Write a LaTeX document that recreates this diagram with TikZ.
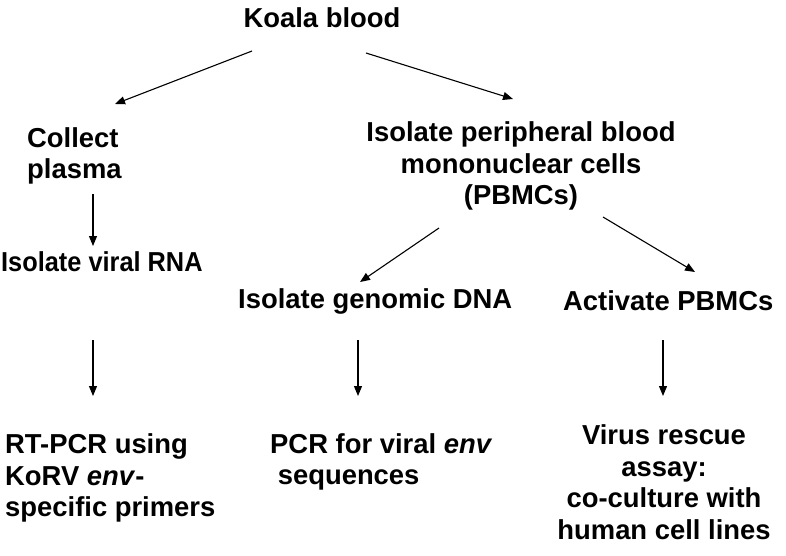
\documentclass[tikz,border=0pt]{standalone}
\usepackage{fontspec}
\setmainfont{Liberation Sans}
\usetikzlibrary{arrows.meta}
\begin{document}
\begin{tikzpicture}[x=1pt,y=-1pt,
  lbl/.style={font=\bfseries\fontsize{27.4}{31.5}\selectfont, inner sep=0pt},
  arr/.style={-{Triangle[length=10pt,width=8pt]}, line width=1.1pt}]
\useasboundingbox (0,0) rectangle (786,555);
\node[lbl] (koala) at (322,18) {Koala blood};
\node[lbl, align=left, anchor=west] (collect) at (27,156) {Collect\\plasma};
\node[lbl, anchor=west] (rna) at (1,262) {\scalebox{0.925}[1]{Isolate viral RNA}};
\node[lbl, align=center] (pbmc) at (521,166) {Isolate peripheral blood\\mononuclear cells\\(PBMCs)};
\node[lbl, anchor=west] (dna) at (238,301) {Isolate genomic DNA};
\node[lbl, anchor=west] (act) at (563,301) {Activate PBMCs};
\node[lbl, align=left, anchor=west] (rtpcr) at (5,478) {RT-PCR using\\KoRV \textit{env}-\\specific primers};
\node[lbl, align=left, anchor=west] (pcr) at (270,462) {PCR for viral \textit{env}\\\ sequences};
\node[lbl, align=center] (rescue) at (664,482) {Virus rescue\\assay:\\co-culture with\\human cell lines};
\coordinate (a1s) at (252,51);  \coordinate (a1e) at (115,104);
\coordinate (a2s) at (366,53);  \coordinate (a2e) at (513,99);
\coordinate (a3s) at (93,194);  \coordinate (a3e) at (93,246);
\coordinate (a4s) at (439,228); \coordinate (a4e) at (360,282);
\coordinate (a5s) at (603,217); \coordinate (a5e) at (695,272);
\coordinate (b1s) at (93,340);  \coordinate (b1e) at (93,396);
\coordinate (b2s) at (358,340); \coordinate (b2e) at (358,396);
\coordinate (b3s) at (663,340); \coordinate (b3e) at (663,396);
\draw[arr] (a1s) -- (a1e);
\draw[arr] (a2s) -- (a2e);
\draw[arr] (a3s) -- (a3e);
\draw[arr] (a4s) -- (a4e);
\draw[arr] (a5s) -- (a5e);
\draw[arr] (b1s) -- (b1e);
\draw[arr] (b2s) -- (b2e);
\draw[arr] (b3s) -- (b3e);
\end{tikzpicture}
\end{document}
